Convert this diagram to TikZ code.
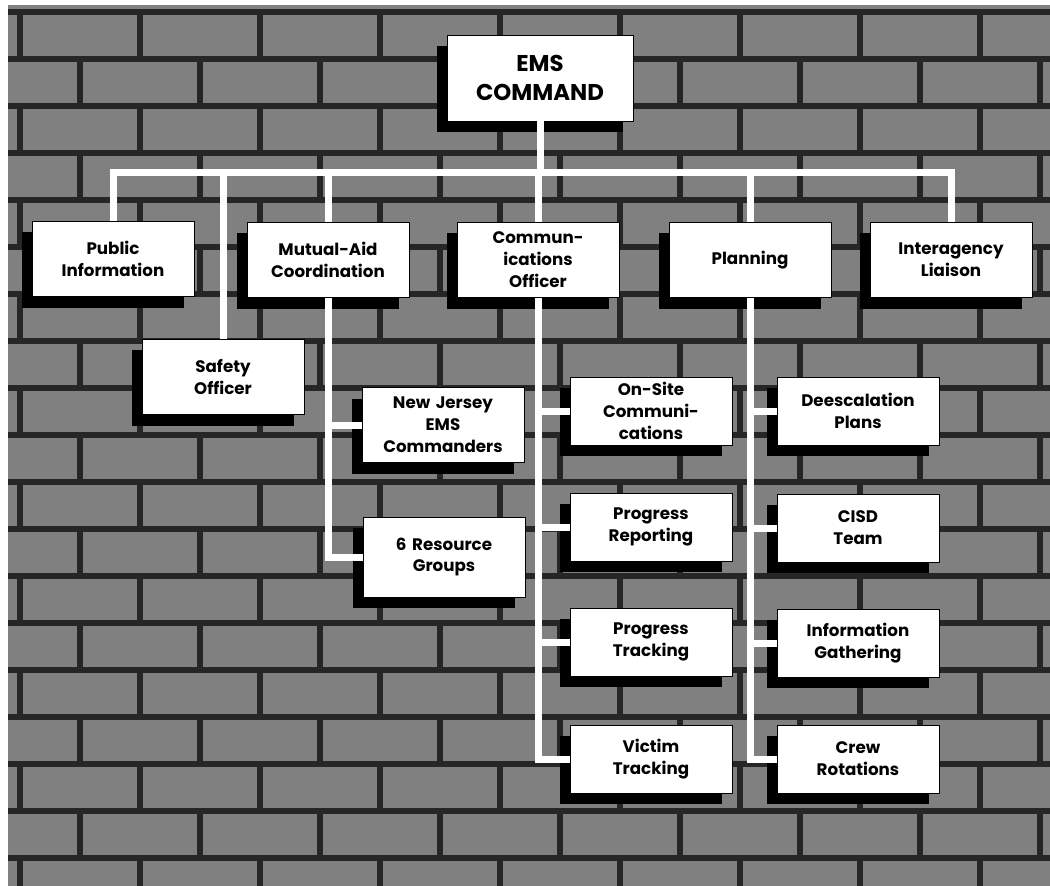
\documentclass[tikz,border=0pt]{standalone}
\usepackage{fontspec}
\setmainfont{Poppins}
\usepackage{tikz}
\usetikzlibrary{positioning, calc, shadows}
\tikzstyle{Wire} = [
%White connector lines:
white,
line width = 1.4mm
]
\tikzstyle{Mortar} = [black!85, line width = 1.3mm]

\begin{document}
\begin{tikzpicture}[x = 0.2mm, y = -0.2mm,
				unit/.style = {rectangle, fill = white, draw = black, text centered, text width = 31mm, inner sep = 0.7mm, minimum width = 32.4mm, minimum height = 15mm, font = \fontsize{9.5}{12.5}\selectfont\bfseries, drop shadow = {shadow xshift = -2mm, shadow yshift = -2.2mm, fill = black, opacity = 1}},
				subunit/.style = {unit, minimum height = 13.6mm},
				head/.style = {unit, text width = 35mm, minimum width = 37.2mm, minimum height = 17.2mm, font = \fontsize{13}{16}\selectfont\bfseries},
			]
			% brick wall
			\fill[white] (0,0) rectangle (1050,886);
			\begin{scope}
				\clip (8,5) rectangle (1050,886);
				\fill[black!50] (8,5) rectangle (1050,886);
				\foreach \r in {0,...,18}{
					\pgfmathsetmacro{\yy}{12 + 47*\r}
					\pgfmathsetmacro{\xo}{20 + 60*mod(\r,2)}
					\draw[Mortar] (0,\yy) -- (1050,\yy);
					\foreach \k in {0,...,9}
						\draw[Mortar] ({\xo + 120*\k},\yy) -- ({\xo + 120*\k},{\yy + 47});
				}
			\end{scope}

			\node[head](ems) at (540,78){EMS\\COMMAND};

			\node[unit](pubinfo) at (113,259){Public\\Information};
			\node[unit](mutaid) at (328,260){Mutual-Aid\\Coordination};
			\node[unit](commoff) at (538,260){Commun-\\ications\\Officer};
			\node[unit](planning) at (750,260){Planning};
			\node[unit](liaison) at (951,260){Interagency\\Liaison};
			\node[unit](safety) at (223,377){Safety\\Officer};

			\node[unit](njems) at (443,425){New Jersey\\EMS\\Commanders};
			\node[unit, minimum height = 16mm](resgroups) at (444,557){6 Resource\\Groups};

			\node[subunit](onsite) at (651,411){On-Site\\Communi-\\cations};
			\node[subunit](progrep) at (651,527){Progress\\Reporting};
			\node[subunit](progtrack) at (651,642){Progress\\Tracking};
			\node[subunit](victrack) at (651,759){Victim\\Tracking};

			\node[subunit](deesc) at (858,411){Deescalation\\Plans};
			\node[subunit](cisd) at (858,528){CISD\\Team};
			\node[subunit](infogath) at (858,643){Information\\Gathering};
			\node[subunit](crewrot) at (858,759){Crew\\Rotations};

			\coordinate(bar) at (540,173);
			\draw[Wire](ems.south)--(ems.south |- bar);
			\draw[Wire](pubinfo.north)--(pubinfo.north |- bar)--(liaison.north |- bar)--(liaison.north);
			\draw[Wire](mutaid.north)--(mutaid.north |- bar);
			\draw[Wire](commoff.north)--(commoff.north |- bar);
			\draw[Wire](planning.north)--(planning.north |- bar);
			\draw[Wire](safety.north)--(safety.north |- bar);

			\draw[Wire](mutaid.south)|-(resgroups.west);
			\draw[Wire](mutaid.south |- njems.west)--(njems.west);

			\draw[Wire](commoff.south)|-(victrack.west);
			\draw[Wire](commoff.south |- onsite.west)--(onsite.west);
			\draw[Wire](commoff.south |- progrep.west)--(progrep.west);
			\draw[Wire](commoff.south |- progtrack.west)--(progtrack.west);

			\draw[Wire](planning.south)|-(crewrot.west);
			\draw[Wire](planning.south |- deesc.west)--(deesc.west);
			\draw[Wire](planning.south |- cisd.west)--(cisd.west);
			\draw[Wire](planning.south |- infogath.west)--(infogath.west);

		\end{tikzpicture}
\end{document}
